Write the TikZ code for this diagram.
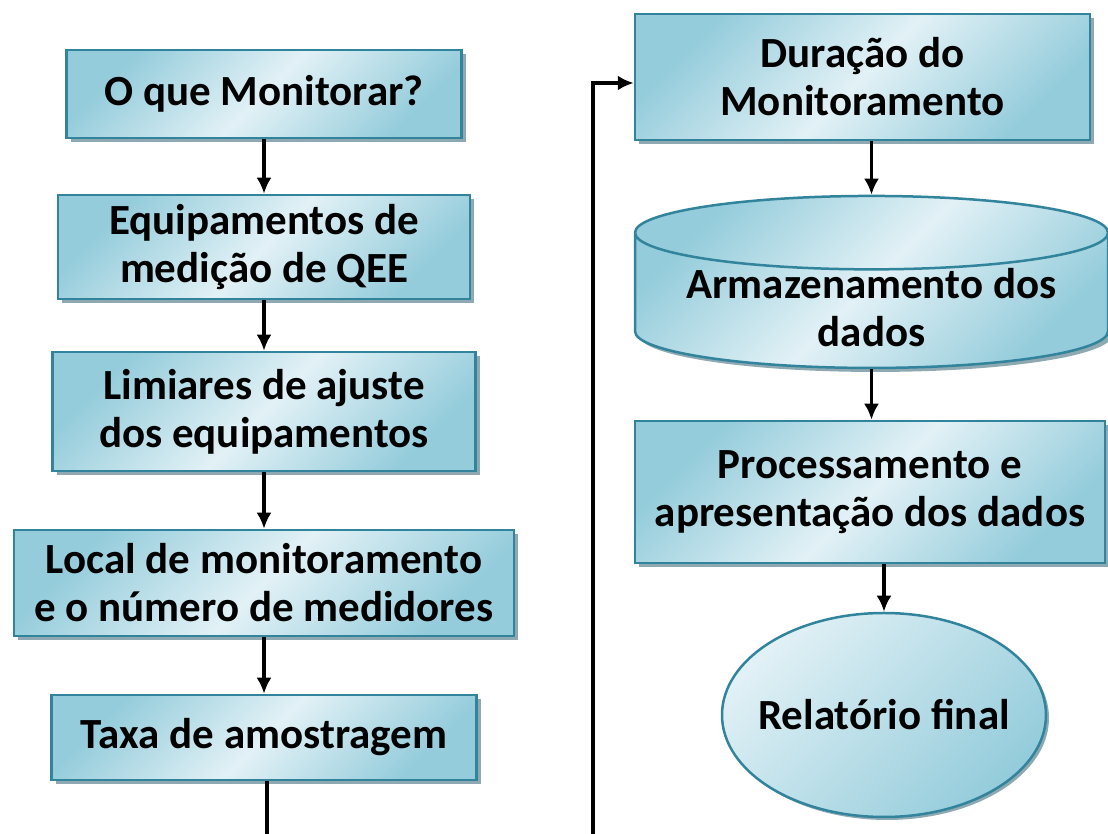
\documentclass[tikz,border=0pt]{standalone}
\usepackage{fontspec}
\setmainfont{Carlito}
\usetikzlibrary{positioning}
\usetikzlibrary{shapes}
\usetikzlibrary{shadows,arrows.meta}
\definecolor{clight}{HTML}{E2F1F6}
\definecolor{cdark}{HTML}{94CCDB}
\definecolor{cborder}{HTML}{31849B}
\definecolor{cshadow}{HTML}{8EA9B1}

\begin{document}
\begin{tikzpicture}[x=1pt, y=1pt, -{Latex[length=16pt,width=15pt]}, node distance = 160pt and 160pt, on grid,
  line width=3.5pt,
  stepbox/.style ={ rectangle, draw=cborder, line width=2.5pt, left color=cdark, right color=cdark,
  middle color=clight, shading angle=45, text=black, align=center,
  font=\fontsize{43}{48}\selectfont\bfseries,
  drop shadow={shadow xshift=4pt, shadow yshift=-4pt, fill=cshadow, opacity=1}},
  store/.style ={ cylinder, shape border rotate=90, shape aspect=0.195, draw=cborder, line width=2.5pt,
  left color=cdark, right color=cdark, middle color=clight, shading angle=45,
  font=\fontsize{43}{48}\selectfont\bfseries,
  drop shadow={shadow xshift=4pt, shadow yshift=-4pt, fill=cshadow, opacity=1}},
  storetext/.style ={ text=black, align=center, font=\fontsize{43}{48}\selectfont\bfseries},
  final/.style ={ ellipse, draw=cborder, line width=2.5pt, inner xsep=-12pt, inner ysep=0pt,
  left color=clight, right color=cdark, shading angle=45, text=black,
  font=\fontsize{43}{48}\selectfont\bfseries,
  drop shadow={shadow xshift=3pt, shadow yshift=-3pt, fill=cshadow, opacity=1}}]
  \useasboundingbox (0,0) rectangle (1108,834);
  % left column
  \node[stepbox, minimum width=395pt, minimum height=88pt] (what) at (264,740)
  {O que Monitorar?};
  \node[stepbox, minimum width=412pt, minimum height=104pt] (equip) [below=153pt of what]
  {Equipamentos de\\medição de QEE};
  \node[stepbox, minimum width=423pt, minimum height=119pt] (limits) [below=164.5pt of equip]
  {Limiares de ajuste\\dos equipamentos};
  \node[stepbox, minimum width=500pt, minimum height=106pt] (local) [below=171.5pt of limits]
  {Local de monitoramento\\e o número de medidores};
  \node[stepbox, minimum width=425pt, minimum height=85pt] (rate) [below=154.5pt of local]
  {Taxa de amostragem};
  % right column
  \node[stepbox, minimum width=455pt, minimum height=126pt] (dur) at (862.5,757)
  {Duração do\\Monitoramento};
  \node[store, minimum width=473pt, minimum height=172pt,
  label={[storetext, name=storelabel, yshift=-4pt]center:Armazenamento dos\\dados}]
  (store) [below=227pt of dur, xshift=9pt] {\phantom{Armazenamento dos}};
  \node[stepbox, minimum width=470pt, minimum height=142pt] (proc) at (870,342)
  {Processamento e\\apresentação dos dados};
  \node[final, minimum width=324pt, minimum height=204pt] (report) [below=223pt of proc, xshift=14pt]
  {Relatório final};
  \coordinate (rateout) at (267,0);
  \coordinate (loopin) at (593,0);
  % connectors
  \path (what) edge (equip);
  \path (equip) edge (limits);
  \path (limits) edge (local);
  \path (local) edge (rate);
  \draw[-] (rate.south -| rateout) -- (rateout);
  \draw (loopin) |- ([yshift=-6pt]dur.west);
  \draw (dur.south -| store.north) -- (store.north);
  \draw (store.south) -- (store.south |- proc.north);
  \draw (proc.south -| report.north) -- (report.north);
\end{tikzpicture}
\end{document}
